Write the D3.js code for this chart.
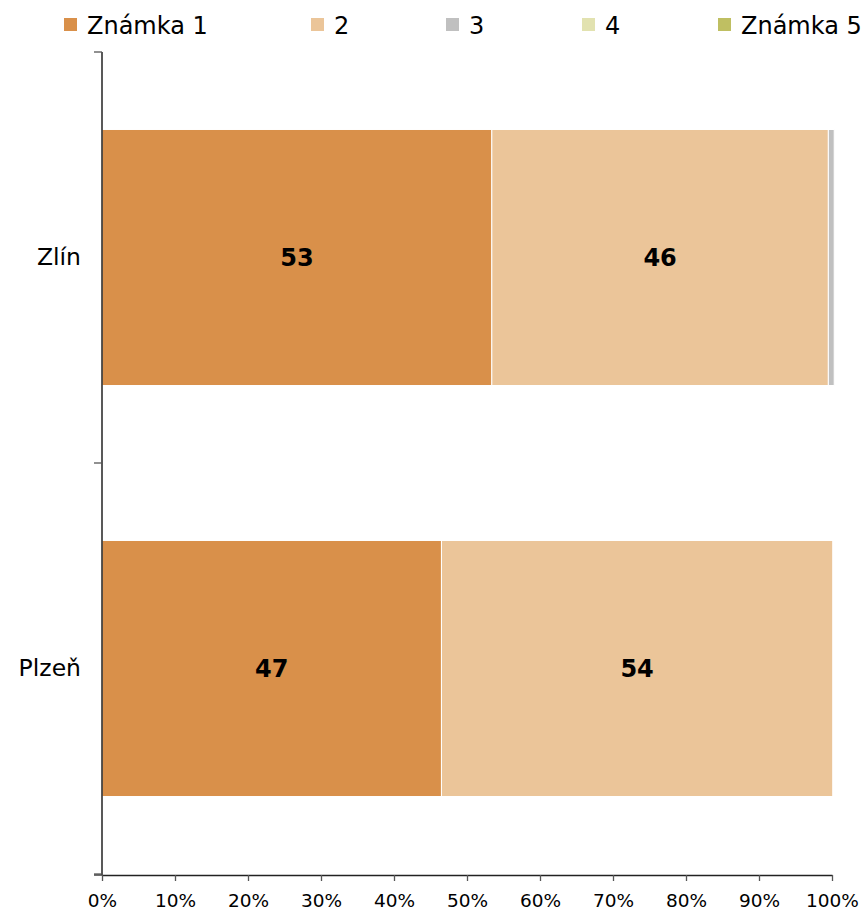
<!DOCTYPE html>
<html>
<head>
<meta charset="utf-8">
<script src="https://cdn.jsdelivr.net/npm/d3@7"></script>
<style>
html,body{margin:0;padding:0;background:#fff;}
text{font-family:"DejaVu Sans",Verdana,sans-serif;}
</style>
</head>
<body>
<svg id="chart" width="868" height="912"></svg>
<script>
const categories = ["Zlín", "Plzeň"];
const seriesNames = ["Známka 1", "2", "3", "4", "Známka 5"];
const seriesColors = ["#d9904a", "#ebc599", "#c0c0c0", "#e2e2b0", "#bfbf62"];
const grade1 = [53.4, 46.5];
const grade2 = [46.1, 53.6];
const grade3 = [0.8, 0];
const grade4 = [0, 0];
const grade5 = [0, 0];
const xTicks = [0, 10, 20, 30, 40, 50, 60, 70, 80, 90, 100];

const seriesValues = [grade1, grade2, grade3, grade4, grade5];
const rows = categories.map((c, i) => {
  const r = {cat: c};
  seriesNames.forEach((s, j) => r[s] = seriesValues[j][i]);
  return r;
});

const svg = d3.select("#chart");
const x = d3.scaleLinear().domain([0, 100]).range([102, 832]);
const y = d3.scaleBand().domain(categories).range([52, 874]).paddingInner(0.377).paddingOuter(0.1885);
const color = d3.scaleOrdinal().domain(seriesNames).range(seriesColors);

const stack = d3.stack().keys(seriesNames)(rows);

// bars
const g = svg.append("g");
g.selectAll("g.series").data(stack).join("g")
  .attr("class", "series")
  .attr("fill", d => color(d.key))
  .selectAll("rect").data(d => d.filter(p => p[1] - p[0] > 0)).join("rect")
  .attr("x", d => x(d[0]))
  .attr("y", d => y(d.data.cat))
  .attr("width", d => x(d[1]) - x(d[0]))
  .attr("height", y.bandwidth())
  .attr("stroke", "#fff")
  .attr("stroke-width", 1);

// value labels
const fmt = d3.format(".0f");
stack.forEach(s => {
  s.forEach(p => {
    const v = p[1] - p[0];
    if (v >= 5) {
      svg.append("text")
        .attr("x", (x(p[0]) + x(p[1])) / 2)
        .attr("y", y(p.data.cat) + y.bandwidth() / 2)
        .attr("dy", "0.36em")
        .attr("text-anchor", "middle")
        .attr("font-size", 24)
        .attr("font-weight", "bold")
        .attr("fill", "#000")
        .text(fmt(v));
    }
  });
});

// x axis
const xAxis = svg.append("g").attr("transform", "translate(0,875)")
  .call(d3.axisBottom(x).tickValues(xTicks).tickFormat(d => d + "%").tickSize(6).tickSizeOuter(0));
xAxis.select(".domain").attr("stroke", "#222").attr("stroke-width", 1.3);
xAxis.selectAll(".tick line").attr("stroke", "#555").attr("stroke-width", 1.3);
xAxis.selectAll(".tick text").attr("font-size", 18.5).attr("fill", "#000").attr("y", 32).attr("dy", 0)
  .style("font-family", "'DejaVu Sans',Verdana,sans-serif");
// extend x axis line left of 0
svg.append("line").attr("x1", 94).attr("x2", x(0)).attr("y1", 875).attr("y2", 875)
  .attr("stroke", "#222").attr("stroke-width", 1.3);

// y axis
const yAxis = svg.append("g").attr("transform", "translate(102,0)")
  .call(d3.axisLeft(y).tickSize(0).tickPadding(21));
yAxis.select(".domain").remove();
yAxis.selectAll(".tick text").attr("font-size", 23.5).attr("fill", "#000")
  .style("font-family", "'DejaVu Sans',Verdana,sans-serif");
svg.append("line").attr("x1", 102).attr("x2", 102).attr("y1", 52).attr("y2", 875)
  .attr("stroke", "#222").attr("stroke-width", 1.5);
const bounds = [y.range()[0]].concat(categories.map(c => y(c) - y.step() * y.paddingInner() / 2).slice(1)).concat([y.range()[1]]);
svg.selectAll("line.ytick").data(bounds).join("line")
  .attr("class", "ytick")
  .attr("x1", 94).attr("x2", 102)
  .attr("y1", d => d).attr("y2", d => d)
  .attr("stroke", "#555").attr("stroke-width", 1.3);

// legend
const legendX = [64, 311, 446, 582, 718];
const lg = svg.append("g");
seriesNames.forEach((s, i) => {
  lg.append("rect").attr("x", legendX[i]).attr("y", 18).attr("width", 13).attr("height", 13).attr("fill", color(s));
  lg.append("text").attr("x", legendX[i] + 23).attr("y", 34).attr("font-size", 24).attr("fill", "#000").text(s);
});
</script>
</body>
</html>
